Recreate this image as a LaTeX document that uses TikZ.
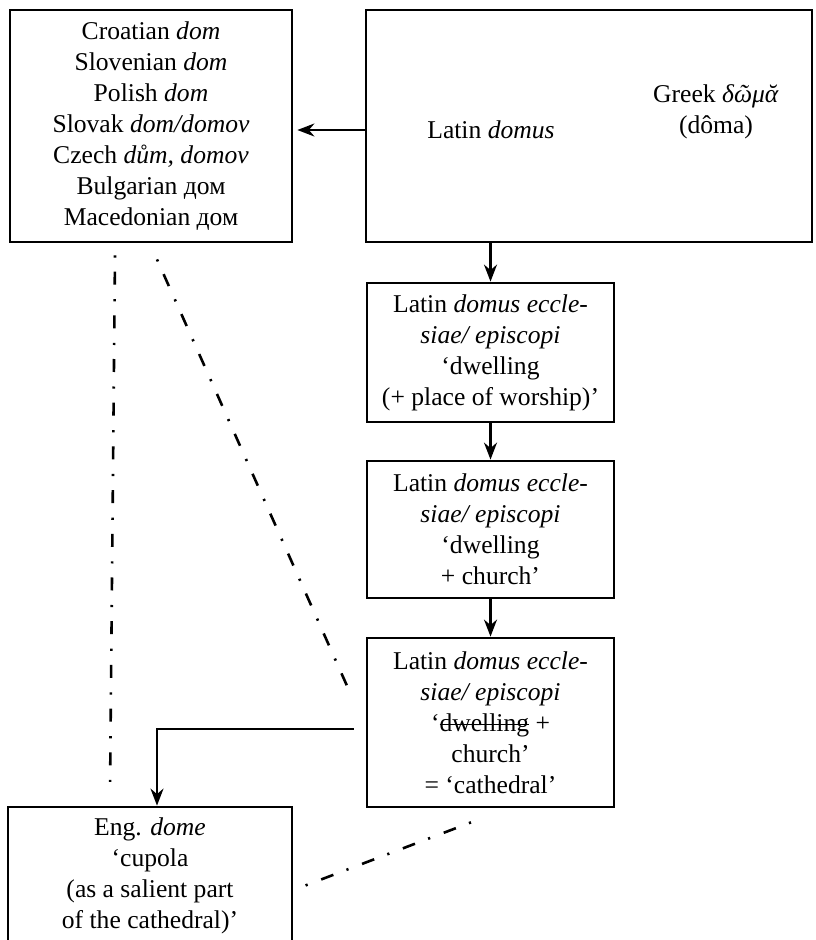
\documentclass[tikz,border=0pt]{standalone}
\usepackage{fontspec}
\setmainfont{Liberation Serif}
\usetikzlibrary{arrows.meta}
\newsavebox\strkbox
\newcommand{\mystrike}[1]{\sbox\strkbox{#1}\rlap{\rule[0.24em]{\wd\strkbox}{1.5pt}}\usebox\strkbox}
\begin{document}
\begin{tikzpicture}[x=1pt,y=-1pt,
  box/.style={draw, line width=2.8pt, inner sep=0pt, align=center, font=\fontsize{25.6}{31}\selectfont},
  lbl/.style={inner sep=0pt, align=center, font=\fontsize{25.6}{31}\selectfont},
  arr/.style={line width=2.2pt, -{Stealth[length=17pt,width=13pt,inset=5.5pt]}},
  dd/.style={line width=2.6pt, dash pattern=on 2.2pt off 14pt on 13pt off 14.5pt}]
\useasboundingbox (0,0) rectangle (815,940);
\node[box, minimum width=282pt, minimum height=232pt] (slav) at (151,126)
  {Croatian \textit{dom}\\ Slovenian \textit{dom}\\ Polish \textit{dom}\\ Slovak \textit{dom/domov}\\ Czech \textit{dům, domov}\\ Bulgarian дом\\ Macedonian дом};
\node[draw, line width=2.8pt, minimum width=446pt, minimum height=232pt] (latin) at (589,126) {};
\node[lbl] (latintxt) at (491,130) {Latin \textit{domus}};
\node[lbl] (greektxt) at (716,112) {Greek \textit{δῶμᾰ}\\(dôma)};
\node[box, minimum width=247pt, minimum height=139pt] (b2) at (490.5,352.5)
  {Latin \textit{domus eccle-}\\ \textit{siae/ episcopi}\\ ‘dwelling\\ (+ place of worship)’};
\node[box, minimum width=247pt, minimum height=137pt] (b3) at (490.5,529.5)
  {Latin \textit{domus eccle-}\\ \textit{siae/ episcopi}\\ ‘dwelling\\ + church’};
\node[box, minimum width=247pt, minimum height=169pt] (b4) at (490.5,722.5)
  {Latin \textit{domus eccle-}\\ \textit{siae/ episcopi}\\ ‘\mystrike{dwelling} +\\ church’\\ = ‘cathedral’};
\node[box, minimum width=284pt, minimum height=138pt] (eng) at (150,876)
  {Eng. \textit{dome}\\ ‘cupola\\ (as a salient part\\ of the cathedral)’};
\draw[arr, shorten >=4pt] ([yshift=-4pt]latin.west) -- ([yshift=-4pt]slav.east);
\draw[arr] (latin.south -| b2.north) -- (b2.north);
\draw[arr] (b2.south) -- (b3.north);
\draw[arr] (b3.south) -- (b4.north);
\draw[arr, shorten <=12pt] ([yshift=-6.5pt]b4.west) -| ([xshift=7pt]eng.north);
\draw[dd] ([shift={(-36,12)}]slav.south) -- ([shift={(-40,-12)}]eng.north);
\draw[dd] ([shift={(6,16)}]slav.south) -- ([shift={(-14.5,-27.5)}]b4.west);
\draw[dd] ([shift={(-19.5,14)}]b4.south) -- ([shift={(8,11)}]eng.east);
\end{tikzpicture}
\end{document}
